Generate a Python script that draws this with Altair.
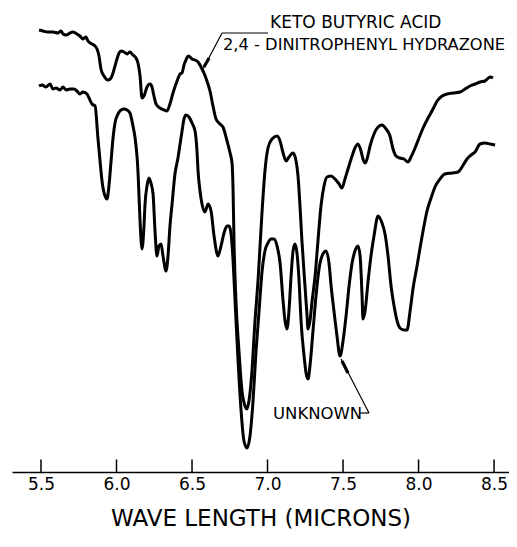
import altair as alt
import pandas as pd

# ---- spectrum 1: keto butyric acid 2,4-dinitrophenyl hydrazone (wavelength in microns, relative transmission)
keto_wl = [5.487, 5.513, 5.546, 5.579, 5.613, 5.632, 5.646, 5.666, 5.692, 5.712, 5.738, 5.758, 5.778, 5.798,
           5.811, 5.838, 5.858, 5.871, 5.884, 5.897, 5.917, 5.944, 5.964, 5.977, 5.990, 6.003, 6.017, 6.030,
           6.050, 6.070, 6.089, 6.109, 6.129, 6.142, 6.156, 6.169, 6.182, 6.202, 6.222, 6.235, 6.248, 6.262,
           6.288, 6.315, 6.334, 6.354, 6.374, 6.401, 6.421, 6.434, 6.447, 6.460, 6.474, 6.487, 6.500, 6.520,
           6.540, 6.553, 6.566, 6.579, 6.599, 6.619, 6.639, 6.659, 6.685, 6.705, 6.732, 6.752, 6.765, 6.772,
           6.778, 6.791, 6.811, 6.831, 6.851, 6.864, 6.877, 6.897, 6.917, 6.937, 6.964, 6.983, 7.003, 7.030,
           7.063, 7.083, 7.103, 7.123, 7.142, 7.169, 7.189, 7.202, 7.215, 7.228, 7.248, 7.262, 7.268, 7.281,
           7.295, 7.315, 7.334, 7.354, 7.374, 7.394, 7.421, 7.447, 7.474, 7.493, 7.513, 7.533, 7.560, 7.579,
           7.599, 7.619, 7.632, 7.646, 7.659, 7.679, 7.705, 7.732, 7.758, 7.785, 7.811, 7.831, 7.851, 7.877,
           7.904, 7.930, 7.950, 7.977, 8.003, 8.030, 8.063, 8.096, 8.123, 8.156, 8.189, 8.228, 8.275, 8.308,
           8.341, 8.374, 8.407, 8.440, 8.474, 8.493]
keto_t = [88.4, 88.2, 88.0, 88.0, 87.8, 88.2, 87.6, 87.4, 87.8, 88.0, 87.6, 87.2, 86.6, 87.0,
          86.2, 85.6, 85.2, 84.6, 83.2, 80.6, 79.2, 78.4, 78.8, 79.8, 81.2, 82.6, 83.8, 84.2,
          84.0, 83.6, 84.0, 83.4, 82.8, 81.8, 79.2, 74.8, 75.2, 77.0, 77.6, 77.0, 75.2, 73.6,
          72.8, 72.4, 72.2, 73.6, 75.8, 78.2, 79.6, 79.8, 81.4, 82.4, 83.2, 83.0, 82.6, 82.4,
          82.0, 81.4, 80.6, 79.8, 78.2, 76.2, 73.2, 70.6, 69.6, 69.0, 66.2, 63.8, 61.8, 56.2,
          46.2, 34.2, 24.2, 16.2, 13.2, 12.6, 14.2, 20.2, 30.2, 38.2, 52.2, 60.2, 64.8, 66.6,
          67.2, 66.2, 63.8, 62.2, 63.0, 63.8, 62.2, 59.2, 53.2, 46.2, 37.2, 31.2, 28.6, 30.2,
          34.2, 39.2, 46.2, 53.2, 57.2, 59.0, 59.2, 58.6, 57.6, 56.8, 58.6, 60.6, 63.2, 64.8,
          65.6, 64.2, 62.6, 61.8, 62.6, 65.2, 67.6, 69.0, 69.4, 68.6, 67.2, 64.6, 63.2, 62.8,
          62.6, 62.0, 63.0, 64.8, 66.8, 68.8, 70.8, 72.6, 74.2, 75.2, 75.6, 75.8, 76.0, 76.6,
          77.2, 77.6, 78.0, 78.2, 79.0, 78.8]

# ---- spectrum 2: unknown
unk_wl = [5.487, 5.507, 5.533, 5.560, 5.579, 5.599, 5.626, 5.646, 5.666, 5.692, 5.719, 5.738, 5.758, 5.778,
          5.805, 5.818, 5.838, 5.858, 5.877, 5.891, 5.904, 5.924, 5.937, 5.950, 5.964, 5.977, 5.990, 6.010,
          6.030, 6.050, 6.070, 6.089, 6.109, 6.123, 6.142, 6.149, 6.156, 6.169, 6.182, 6.189, 6.202, 6.215,
          6.228, 6.242, 6.255, 6.268, 6.281, 6.295, 6.308, 6.328, 6.341, 6.354, 6.368, 6.387, 6.407, 6.421,
          6.434, 6.447, 6.460, 6.480, 6.500, 6.520, 6.533, 6.540, 6.553, 6.566, 6.586, 6.606, 6.626, 6.646,
          6.672, 6.692, 6.712, 6.732, 6.745, 6.758, 6.772, 6.785, 6.805, 6.825, 6.844, 6.864, 6.884, 6.904,
          6.924, 6.944, 6.964, 6.983, 7.003, 7.023, 7.043, 7.063, 7.083, 7.103, 7.116, 7.129, 7.142, 7.156,
          7.169, 7.182, 7.195, 7.209, 7.222, 7.242, 7.255, 7.268, 7.281, 7.301, 7.321, 7.341, 7.361, 7.387,
          7.407, 7.421, 7.440, 7.460, 7.480, 7.500, 7.520, 7.540, 7.560, 7.579, 7.599, 7.613, 7.626, 7.632,
          7.646, 7.666, 7.685, 7.705, 7.732, 7.758, 7.778, 7.798, 7.818, 7.838, 7.858, 7.877, 7.904, 7.924,
          7.944, 7.964, 7.990, 8.010, 8.036, 8.056, 8.083, 8.109, 8.142, 8.175, 8.222, 8.262, 8.288, 8.321,
          8.348, 8.374, 8.407, 8.440, 8.474, 8.507]
unk_t = [77.2, 77.4, 77.0, 77.6, 76.6, 76.8, 76.4, 77.0, 76.4, 76.6, 76.6, 76.2, 75.6, 76.0,
         75.6, 74.8, 73.6, 73.2, 66.8, 62.2, 58.2, 55.2, 54.6, 57.2, 62.2, 66.8, 69.8, 71.6,
         72.4, 72.6, 72.4, 71.8, 69.2, 66.8, 60.2, 55.2, 50.2, 44.6, 49.2, 53.6, 57.2, 58.8,
         57.8, 55.6, 48.2, 43.2, 45.2, 45.6, 43.2, 40.2, 43.2, 49.2, 53.6, 59.6, 62.8, 65.6,
         68.2, 70.6, 71.4, 71.0, 69.8, 68.2, 64.2, 60.2, 56.2, 53.6, 52.0, 53.6, 52.2, 47.2,
         43.2, 45.2, 47.8, 49.2, 49.2, 47.8, 42.2, 34.2, 22.2, 12.2, 6.2, 4.8, 7.2, 14.2,
         24.2, 32.2, 40.2, 44.2, 45.8, 46.6, 46.6, 45.2, 41.8, 34.2, 30.2, 28.6, 32.2, 39.2,
         44.2, 45.6, 43.8, 38.2, 30.2, 23.2, 19.8, 18.6, 21.2, 28.2, 35.2, 40.6, 43.2, 44.2,
         41.8, 37.2, 32.2, 27.2, 23.2, 26.2, 31.2, 37.2, 41.8, 44.2, 45.2, 43.2, 35.2, 30.6,
         32.2, 38.2, 43.2, 47.2, 51.2, 49.8, 47.6, 43.2, 37.2, 33.2, 30.2, 28.8, 28.4, 28.4,
         32.2, 36.8, 41.2, 44.8, 49.2, 52.2, 54.8, 57.0, 58.6, 59.6, 59.8, 60.0, 61.0, 62.6,
         63.4, 64.0, 65.6, 65.8, 65.6, 65.4]

tick_values = [5.5, 6.0, 6.5, 7.0, 7.5, 8.0, 8.5]

# annotation labels
label_text = ["KETO BUTYRIC ACID", "2,4 - DINITROPHENYL HYDRAZONE", "UNKNOWN"]
label_wl = [7.017, 6.705, 7.036]
label_t = [88.8, 84.4, 10.6]
label_size = [17, 16.3, 16.5]

# leader lines (segments)
lead_wl1 = [6.699, 6.699, 6.579, 7.613, 7.672, 7.493]
lead_t1 = [87.8, 87.8, 81.0, 11.8, 11.8, 22.2]
lead_wl2 = [7.003, 6.573, 6.613, 7.672, 7.487, 7.533]
lead_t2 = [87.8, 80.6, 82.8, 11.8, 22.6, 19.8]
lead_w = [1.2, 1.2, 3.2, 1.2, 1.2, 3.2]

X_DOMAIN = [5.308, 8.599]
Y_DOMAIN = [0, 90]
FONT = "DejaVu Sans"

xs = alt.Scale(domain=X_DOMAIN, nice=False, zero=False)
ys = alt.Scale(domain=Y_DOMAIN, nice=False, zero=False)

keto_df = pd.DataFrame({"wl": keto_wl, "t": keto_t, "order": range(len(keto_wl))})
unk_df = pd.DataFrame({"wl": unk_wl, "t": unk_t, "order": range(len(unk_wl))})
tick_df = pd.DataFrame({"wl": tick_values, "t0": [0] * len(tick_values), "t1": [2.5] * len(tick_values)})
lab_df = pd.DataFrame({"wl": label_wl, "t": label_t, "text": label_text, "fs": label_size})
lead_df = pd.DataFrame({"wl": lead_wl1, "t": lead_t1, "wl2": lead_wl2, "t2": lead_t2, "w": lead_w})

x_axis = alt.Axis(values=tick_values, format=".1f", ticks=False, tickSize=0, grid=False,
                  domainColor="black", domainWidth=1.5, labelFont=FONT, labelFontSize=17,
                  labelColor="black", labelPadding=4, title="WAVE LENGTH (MICRONS)",
                  titleFont=FONT, titleFontSize=23, titleFontWeight="normal", titleColor="black",
                  titlePadding=15)

base_x = alt.X("wl:Q", scale=xs, axis=x_axis)

keto = alt.Chart(keto_df).mark_line(color="black", strokeWidth=3, interpolate="monotone").encode(
    x=base_x, y=alt.Y("t:Q", scale=ys, axis=None), order="order:Q")
unk = alt.Chart(unk_df).mark_line(color="black", strokeWidth=3, interpolate="monotone").encode(
    x=alt.X("wl:Q", scale=xs), y=alt.Y("t:Q", scale=ys), order="order:Q")
ticks = alt.Chart(tick_df).mark_rule(color="black", strokeWidth=1.5).encode(
    x=alt.X("wl:Q", scale=xs), y=alt.Y("t0:Q", scale=ys), y2="t1:Q")
labels = alt.Chart(lab_df).mark_text(align="left", baseline="alphabetic", font=FONT,
                                     color="black").encode(
    x=alt.X("wl:Q", scale=xs), y=alt.Y("t:Q", scale=ys), text="text:N",
    size=alt.Size("fs:Q", scale=None))
leads = alt.Chart(lead_df).mark_rule(color="black").encode(
    x=alt.X("wl:Q", scale=xs), y=alt.Y("t:Q", scale=ys), x2="wl2:Q", y2="t2:Q",
    strokeWidth=alt.StrokeWidth("w:Q", scale=None))

chart = alt.layer(keto, unk, ticks, leads, labels).properties(
    width=497, height=450,
    padding={"left": 4, "top": 6, "right": 0, "bottom": 2},
    background="white",
).configure_view(stroke=None)

chart.save("out.html", embed_options={"renderer": "svg", "actions": False})
